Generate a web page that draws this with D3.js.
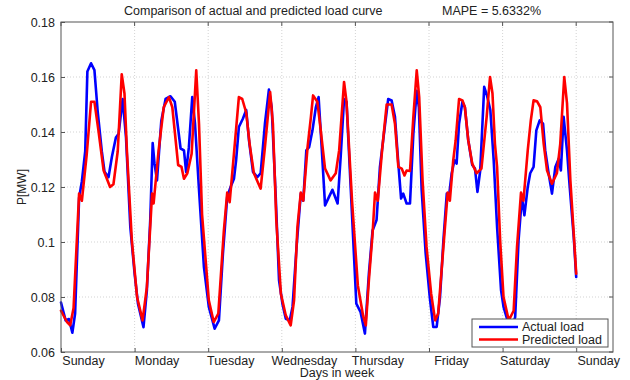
<!DOCTYPE html>
<html>
<head>
<meta charset="utf-8">
<script src="https://cdn.jsdelivr.net/npm/d3@7"></script>
<style>
  body { margin: 0; background: #fff; }
  svg { font-family: "Liberation Sans", Arial, sans-serif; }
</style>
</head>
<body>
<div id="chart"></div>
<script>
// hours since Sunday 00:00, load in MW
const actualLoad = [
  [0,0.078],[1.5,0.0715],[2.6,0.072],[3.7,0.067],[4.6,0.074],[5.9,0.116],[6.8,0.122],[7.9,0.133],[8.6,0.162],[9.8,0.165],
  [10.9,0.1625],[12,0.147],[13.3,0.133],[14.2,0.1255],[15.5,0.1236],[16.6,0.131],[17.9,0.138],[18.8,0.1394],[20.1,0.152],[21.2,0.138],
  [22.6,0.1055],[24,0.0885],[25.1,0.0776],[26.9,0.069],[28,0.0824],[29.1,0.108],[29.9,0.136],[30.5,0.1285],[31.3,0.1224],[32.7,0.144],
  [34.1,0.152],[35.7,0.153],[37.1,0.151],[39,0.134],[40.1,0.1333],[40.8,0.1255],[41.7,0.1345],[42.8,0.1527],[43.7,0.143],[45,0.119],
  [46.6,0.091],[48.2,0.0764],[50.1,0.0685],[51.5,0.0715],[52.8,0.0958],[54.2,0.1164],[55.3,0.12],[56.4,0.123],[57.1,0.1297],[58,0.1418],
  [59.3,0.1448],[60.4,0.148],[61.3,0.137],[62.6,0.1255],[64,0.1236],[65.1,0.125],[66.5,0.143],[67.8,0.1554],[68.7,0.149],[70,0.117],
  [71.1,0.0861],[72.2,0.0776],[73.3,0.0721],[74.6,0.0715],[75.5,0.0764],[76.8,0.098],[78.2,0.1176],[79,0.115],[80,0.1333],[80.9,0.1345],
  [82,0.1406],[83.1,0.149],[84,0.1527],[85,0.1345],[86.1,0.1133],[87.4,0.1164],[88.5,0.119],[90.2,0.114],[91.2,0.131],[92.3,0.152],
  [93.1,0.151],[94.5,0.119],[96.3,0.0776],[97.7,0.0745],[99.1,0.0667],[100.4,0.0885],[101.6,0.1042],[102.9,0.108],[104,0.1273],[105.7,0.143],
  [106.7,0.152],[107.8,0.1515],[108.9,0.1455],[110,0.1285],[110.9,0.1158],[111.6,0.1176],[112.7,0.114],[113.8,0.114],[114.9,0.1394],[116,0.155],
  [116.7,0.149],[117.6,0.119],[118.9,0.096],[120.3,0.0794],[121.4,0.0691],[122.5,0.0691],[123.6,0.08],[124.7,0.1006],[125.8,0.1176],[126.5,0.1164],
  [127.4,0.125],[128.3,0.1297],[129,0.1285],[129.8,0.143],[130.9,0.151],[131.7,0.149],[132.8,0.137],[134.1,0.128],[135,0.1267],[135.8,0.1182],
  [136.7,0.126],[138,0.1564],[138.9,0.1533],[140,0.148],[141.1,0.1297],[142.2,0.1055],[143.5,0.0824],[144.3,0.0764],[145.6,0.0715],[146.7,0.068],
  [148.1,0.0727],[149.2,0.1006],[150.3,0.1164],[151.1,0.1097],[152.2,0.12],[153,0.125],[154.1,0.1273],[155,0.1406],[156.1,0.1442],[157.2,0.143],
  [157.9,0.1333],[159,0.125],[160.1,0.1176],[161.2,0.1273],[162.3,0.1303],[163,0.126],[163.9,0.1455],[165,0.1333],[165.8,0.1212],[167.2,0.1018],
  [168,0.0873]
];

const predictedLoad = [
  [0,0.075],[1.9,0.071],[3,0.0697],[4.1,0.076],[5.9,0.1176],[6.8,0.115],[8.4,0.132],[9.8,0.151],[10.9,0.151],[12.2,0.1406],
  [13.9,0.126],[16,0.12],[17.1,0.121],[18.5,0.133],[19.8,0.161],[20.7,0.154],[21.5,0.133],[23.1,0.1006],[24.8,0.08],[26.6,0.0715],
  [28,0.0836],[29.7,0.1176],[30.2,0.114],[31.8,0.133],[33.5,0.149],[35.2,0.1527],[36.3,0.149],[38.2,0.128],[39.3,0.1273],[40.1,0.123],
  [41.2,0.125],[42.6,0.1321],[44.1,0.1624],[45,0.143],[46,0.11],[48.2,0.0788],[49.8,0.0709],[51.3,0.074],[53.1,0.104],[54.2,0.118],
  [55,0.1145],[56.4,0.1321],[58,0.1527],[59.1,0.152],[60.4,0.147],[61.5,0.1357],[62.9,0.125],[65.1,0.1194],[66.5,0.1345],[68.2,0.1545],
  [69.1,0.143],[70.2,0.108],[71.7,0.0812],[73.3,0.0733],[74.9,0.0697],[76,0.0788],[77.1,0.1055],[78.2,0.118],[79,0.115],[80.4,0.1345],
  [81.5,0.1455],[82.2,0.1533],[83.6,0.151],[84.7,0.1406],[86.1,0.1267],[87.9,0.1224],[89.6,0.125],[90.7,0.1333],[92.3,0.1582],[93.1,0.151],
  [94.9,0.115],[96.8,0.0842],[98.5,0.0733],[99.4,0.0697],[100.4,0.0861],[101.6,0.103],[102.4,0.118],[103.3,0.115],[104.7,0.1333],[106.2,0.15],
  [107.8,0.15],[108.9,0.143],[110,0.1273],[111.1,0.1267],[112,0.1242],[112.7,0.126],[113.8,0.1258],[114.9,0.1455],[116,0.1624],[116.8,0.1527],
  [117.9,0.1224],[119.2,0.0982],[120.7,0.0812],[122,0.0715],[123,0.074],[124.7,0.0982],[126.1,0.118],[126.8,0.115],[127.9,0.1297],[128.7,0.137],
  [129.8,0.152],[130.9,0.1515],[131.7,0.149],[132.8,0.137],[134.1,0.1285],[135.5,0.125],[137.1,0.1267],[138.8,0.1455],[139.9,0.16],[140.7,0.154],
  [141.5,0.1357],[142.2,0.1273],[143.2,0.1006],[144.3,0.08],[146,0.0715],[147.6,0.075],[148.7,0.0982],[150,0.118],[150.8,0.115],[152.2,0.1333],
  [153.2,0.1442],[154.1,0.1515],[155.2,0.1512],[156.3,0.149],[157.4,0.1357],[158.5,0.126],[160.1,0.1212],[161.7,0.125],[162.8,0.1357],[164.1,0.16],
  [165,0.1505],[166.1,0.1224],[167.2,0.103],[168,0.0885]
];

const dayTicks = [0, 24, 48, 72, 96, 120, 144, 168];
const dayNames = ["Sunday", "Monday", "Tuesday", "Wednesday", "Thursday", "Friday", "Saturday", "Sunday"];
const loadTicks = [0.06, 0.08, 0.10, 0.12, 0.14, 0.16, 0.18];
const seriesNames = ["Actual load", "Predicted load"];
const seriesColors = ["#0000ff", "#ff0000"];

/**
 * Layout.
 */
const width = 630, height = 380;
const margin = { top: 22, right: 17, bottom: 28, left: 61 };
const axisColor = "#555";
const fontSize = "12.5px";
const dayLabelShift = 22; // labels sit a bit right of their ticks in the original

const svg = d3.select("#chart").append("svg")
  .attr("width", width)
  .attr("height", height);

const x = d3.scaleLinear().domain([0, 180]).range([margin.left, width - margin.right]);
const y = d3.scaleLinear().domain([0.06, 0.18]).range([height - margin.bottom, margin.top]);

// grid
const grid = svg.append("g").attr("class", "grid")
  .attr("stroke", "#c8c8c8")
  .attr("stroke-width", 0.8)
  .attr("stroke-dasharray", "1,2");

grid.selectAll(".vgrid")
  .data(dayTicks.slice(1))
  .enter().append("line")
    .attr("x1", d => x(d)).attr("x2", d => x(d))
    .attr("y1", y.range()[0]).attr("y2", y.range()[1]);

grid.selectAll(".hgrid")
  .data(loadTicks.slice(1, -1))
  .enter().append("line")
    .attr("y1", d => y(d)).attr("y2", d => y(d))
    .attr("x1", x.range()[0]).attr("x2", x.range()[1]);

// axes, ticks pointing inward like MATLAB
const xAxis = svg.append("g")
  .attr("transform", `translate(0,${y.range()[0]})`)
  .call(d3.axisBottom(x).tickValues(dayTicks).tickFormat((d, i) => dayNames[i]).tickSize(-4).tickSizeOuter(0).tickPadding(4));

const yAxis = svg.append("g")
  .attr("transform", `translate(${x.range()[0]},0)`)
  .call(d3.axisLeft(y).tickValues(loadTicks).tickFormat(d => String(+d.toFixed(2))).tickSize(-4).tickSizeOuter(0).tickPadding(6));

[xAxis, yAxis].forEach(a => {
  a.select(".domain").remove();
  a.selectAll(".tick line").attr("stroke", axisColor);
  a.selectAll(".tick text")
    .attr("fill", "#222")
    .style("font-size", fontSize)
    .style("font-family", "'Liberation Sans', Arial, sans-serif");
});

xAxis.selectAll(".tick text").attr("dx", dayLabelShift);

// top / right ticks
svg.append("g").selectAll("line")
  .data(dayTicks)
  .enter().append("line")
    .attr("x1", d => x(d)).attr("x2", d => x(d))
    .attr("y1", y.range()[1]).attr("y2", y.range()[1] + 4)
    .attr("stroke", axisColor);

svg.append("g").selectAll("line")
  .data(loadTicks)
  .enter().append("line")
    .attr("y1", d => y(d)).attr("y2", d => y(d))
    .attr("x1", x.range()[1]).attr("x2", x.range()[1] - 4)
    .attr("stroke", axisColor);

// lines
const line = d3.line()
  .x(d => x(d[0]))
  .y(d => y(d[1]));

svg.append("g").attr("class", "series")
  .selectAll("path")
  .data([actualLoad, predictedLoad])
  .enter().append("path")
    .attr("d", line)
    .attr("fill", "none")
    .attr("stroke", (d, i) => seriesColors[i])
    .attr("stroke-width", 2.6)
    .attr("stroke-linejoin", "round")
    .attr("stroke-linecap", "round");

// box
svg.append("rect")
  .attr("x", x.range()[0]).attr("y", y.range()[1])
  .attr("width", x.range()[1] - x.range()[0])
  .attr("height", y.range()[0] - y.range()[1])
  .attr("fill", "none")
  .attr("stroke", axisColor)
  .attr("stroke-width", 1);

// legend
const legend = svg.append("g").attr("transform", "translate(472,319)");
legend.append("rect")
  .attr("width", 136).attr("height", 28)
  .attr("fill", "#fff")
  .attr("stroke", axisColor);

const legendItems = legend.selectAll(".item")
  .data(seriesNames)
  .enter().append("g")
    .attr("transform", (d, i) => `translate(0,${8 + i * 12.5})`);

legendItems.append("line")
  .attr("x1", 7).attr("x2", 46)
  .attr("stroke", (d, i) => seriesColors[i])
  .attr("stroke-width", 2.6);

legendItems.append("text")
  .attr("x", 50).attr("dy", "0.35em")
  .attr("fill", "#222")
  .style("font-size", fontSize)
  .text(d => d);

// titles
svg.append("text")
  .attr("x", 124).attr("y", 15)
  .attr("fill", "#222")
  .style("font-size", fontSize)
  .text("Comparison of actual and predicted load curve");

svg.append("text")
  .attr("x", 442).attr("y", 15)
  .attr("fill", "#222")
  .style("font-size", fontSize)
  .text("MAPE = 5.6332%");

svg.append("text")
  .attr("x", (x.range()[0] + x.range()[1]) / 2).attr("y", 377)
  .attr("text-anchor", "middle")
  .attr("fill", "#222")
  .style("font-size", fontSize)
  .text("Days in week");

svg.append("text")
  .attr("transform", `translate(26,${(y.range()[0] + y.range()[1]) / 2}) rotate(-90)`)
  .attr("text-anchor", "middle")
  .attr("fill", "#222")
  .style("font-size", "12px")
  .text("P[MW]");
</script>
</body>
</html>
